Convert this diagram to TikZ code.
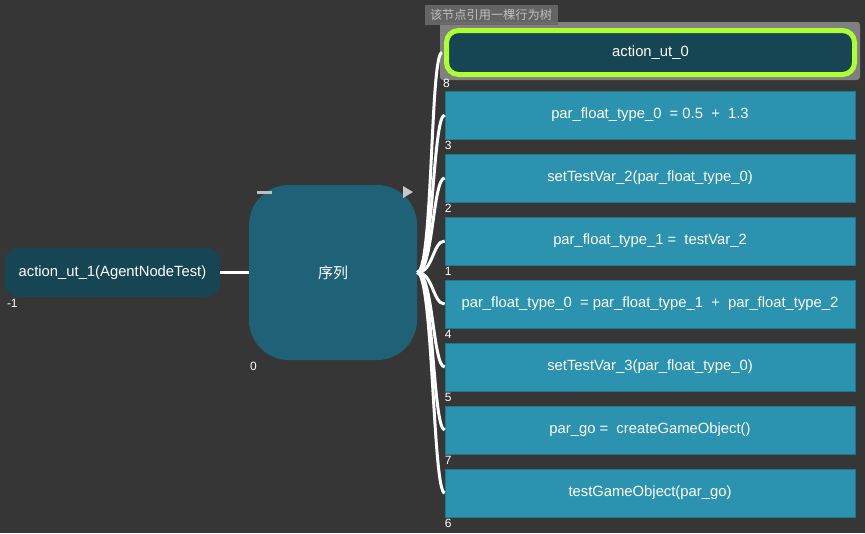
\documentclass[tikz,border=0pt]{standalone}
\usepackage{fontspec}
\setmainfont{Liberation Sans}
\newfontfamily\cjk{Noto Sans CJK SC}
\definecolor{bgcol}{HTML}{363636}
\definecolor{darkteal}{HTML}{164554}
\definecolor{seqteal}{HTML}{1F6278}
\definecolor{boxteal}{HTML}{2B93AF}
\definecolor{hilite}{HTML}{ADFF2F}
\definecolor{paneg}{HTML}{808080}
\definecolor{tipg}{HTML}{6A6A6A}
\tikzset{
  actbox/.style={rectangle, fill=boxteal, draw=boxteal!80!black, line width=0.6pt,
    minimum width=410pt, minimum height=48pt, inner sep=0pt, text=white,
    font=\fontsize{14.8}{17}\selectfont},
  idlabel/.style={anchor=north west, inner sep=0pt, text=white,
    font=\fontsize{12}{13}\selectfont, yshift=-2pt},
  link/.style={white, line width=3pt}
}
\begin{document}
\begin{tikzpicture}[x=1pt, y=-1pt]
    \fill [bgcol] (0,0) rectangle (865,533);
    \useasboundingbox (0,0) rectangle (865,533);
    % grey pane behind the referenced subtree
    \fill [paneg, rounded corners=3pt] (440,22) rectangle (860,80);
    \node (ref) [rectangle, rounded corners=12pt, fill=darkteal, draw=hilite, line width=5pt,
      minimum width=408pt, minimum height=44pt, inner sep=0pt, text=white,
      font=\fontsize{14.8}{17}\selectfont] at (650.5,52.5) {action\_ut\_0};
    \node (tip) [rectangle, fill=tipg, fill opacity=0.9, draw=black!60, line width=0.6pt,
      text opacity=1, text=black!25, minimum width=132pt, minimum height=19pt, inner sep=0pt,
      font=\cjk\fontsize{12.2}{13}\selectfont] at (491,14.5) {该节点引用一棵行为树};
    % root and sequence
    \node (agent) [rectangle, rounded corners=14pt, fill=darkteal, minimum width=215pt,
      minimum height=49pt, inner sep=0pt, text=white,
      font=\fontsize{14.8}{17}\selectfont] at (112.5,272.5) {action\_ut\_1(AgentNodeTest)};
    \node (seq) [rectangle, rounded corners=40pt, fill=seqteal, minimum width=168pt,
      minimum height=175pt, inner sep=0pt, text=white,
      font=\cjk\fontsize{15}{17}\selectfont] at (333,272.5) {序列};
    \fill [black!25] (257,191) rectangle (272,193.5);
    \fill [black!22] (403,186) -- (413,192) -- (403,198) -- cycle;
    % children
    \node (c3) [actbox] at (650,115) {par\_float\_type\_0~~= 0.5~~+~~1.3};
    \node (c2) [actbox] at (650,178) {setTestVar\_2(par\_float\_type\_0)};
    \node (c1) [actbox] at (650,241) {par\_float\_type\_1 =~~testVar\_2};
    \node (c4) [actbox] at (650,304) {par\_float\_type\_0~~= par\_float\_type\_1~~+~~par\_float\_type\_2};
    \node (c5) [actbox] at (650,367) {setTestVar\_3(par\_float\_type\_0)};
    \node (c7) [actbox] at (650,430) {par\_go =~~createGameObject()};
    \node (c6) [actbox] at (650,493) {testGameObject(par\_go)};
    % ids
    \node [idlabel, xshift=2pt] at (agent.south west) {-1};
    \node [idlabel, xshift=1pt] at (seq.south west) {0};
    \node [idlabel, xshift=-1pt] at (ref.south west) {8};
    \node [idlabel] at (c3.south west) {3};
    \node [idlabel] at (c2.south west) {2};
    \node [idlabel] at (c1.south west) {1};
    \node [idlabel] at (c4.south west) {4};
    \node [idlabel] at (c5.south west) {5};
    \node [idlabel] at (c7.south west) {7};
    \node [idlabel] at (c6.south west) {6};
    % links
    \draw [link] (agent.east) -- (seq.west);
    \draw [link] (seq.east) .. controls +(16,0) and +(-12,0) .. ([xshift=-2pt]ref.west);
    \draw [link] (seq.east) .. controls +(16,0) and +(-12,0) .. (c3.west);
    \draw [link] (seq.east) .. controls +(16,0) and +(-12,0) .. (c2.west);
    \draw [link] (seq.east) .. controls +(16,0) and +(-12,0) .. (c1.west);
    \draw [link] (seq.east) .. controls +(16,0) and +(-12,0) .. (c4.west);
    \draw [link] (seq.east) .. controls +(16,0) and +(-12,0) .. (c5.west);
    \draw [link] (seq.east) .. controls +(16,0) and +(-12,0) .. (c7.west);
    \draw [link] (seq.east) .. controls +(16,0) and +(-12,0) .. (c6.west);
\end{tikzpicture}
\end{document}
